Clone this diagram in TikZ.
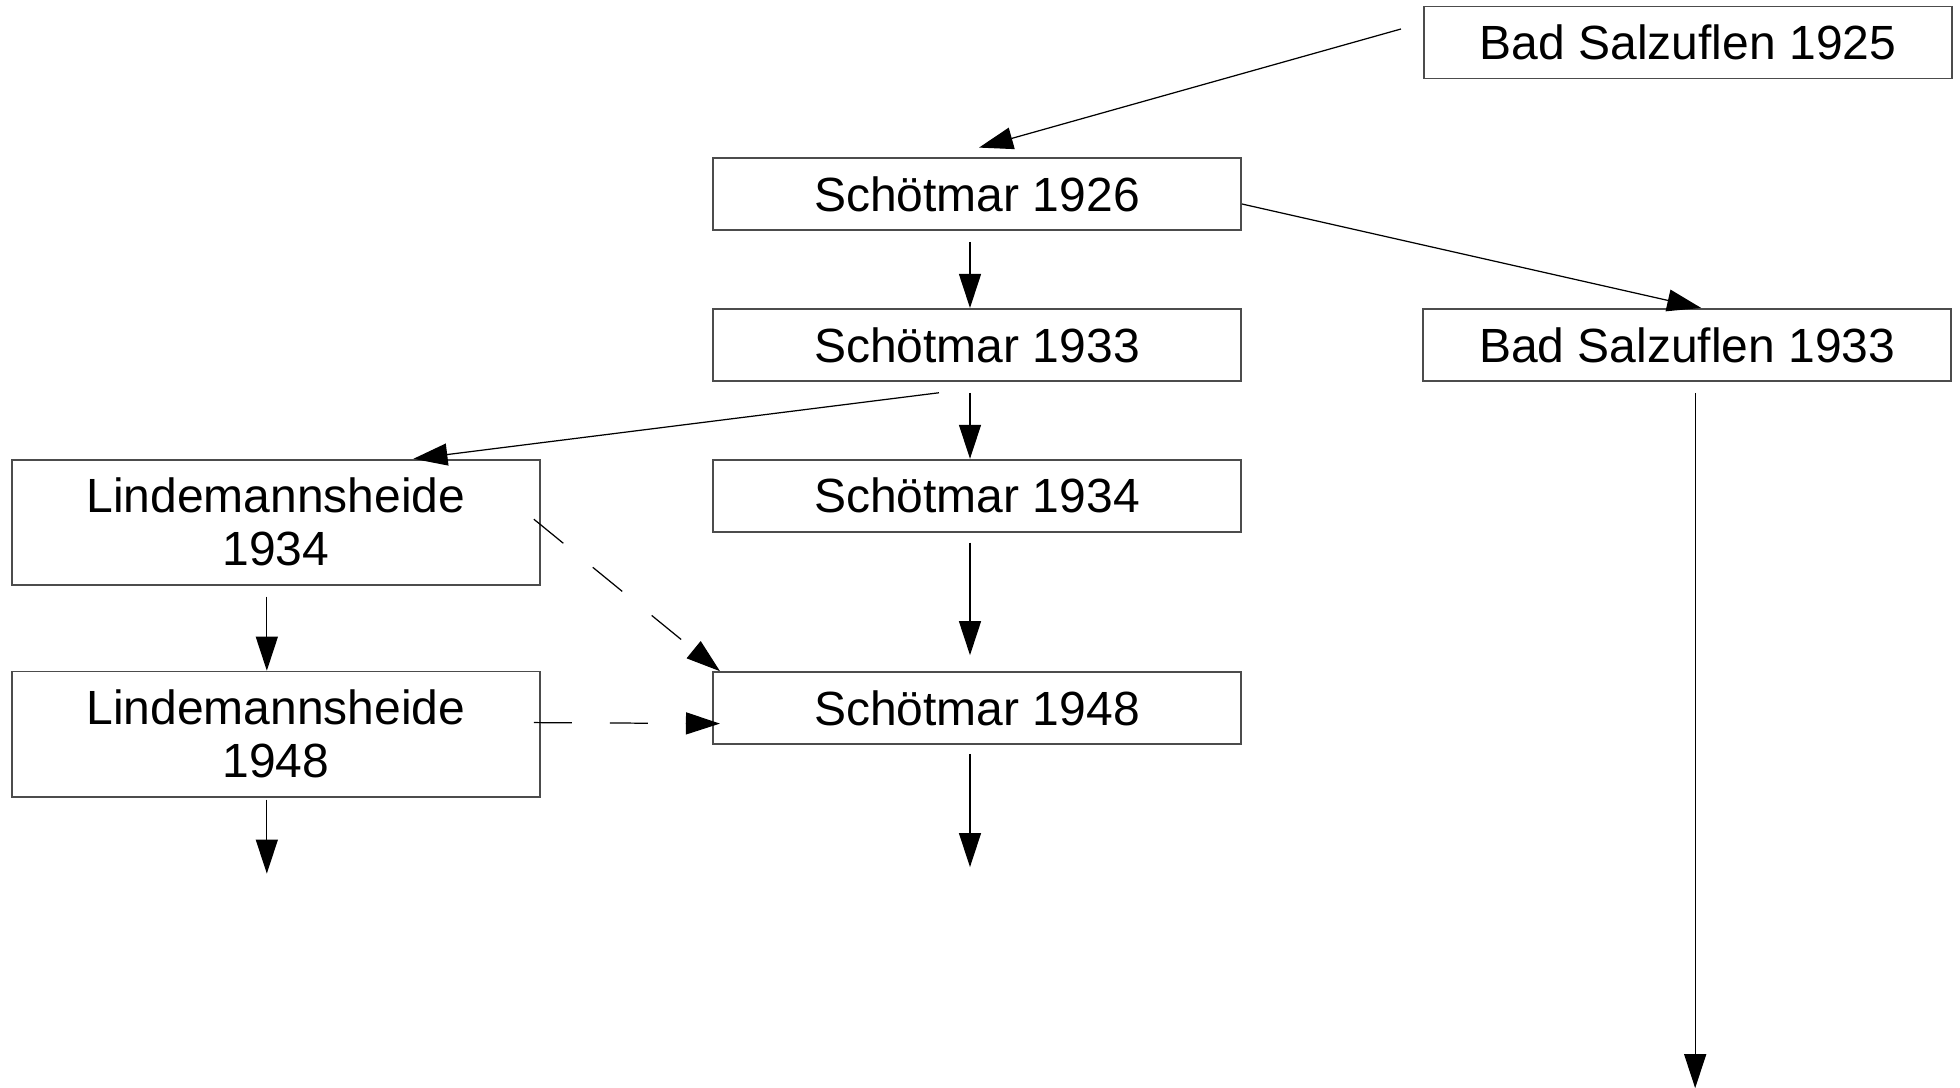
\documentclass[tikz,border=0pt]{standalone}
\usepackage{fontspec}
\setsansfont{Liberation Sans}
\usepackage{tikz}
\usetikzlibrary{arrows.meta}
\usetikzlibrary{positioning}

\begin{document}
\begin{tikzpicture}[x=0.01cm,y=-0.01cm,->,>={Triangle[length=0.34cm,width=0.22cm]},line width=0.35pt,
  every node/.style={font=\sffamily\fontsize{13.65}{15.1}\selectfont},
  place/.style={draw=black!70,line width=0.5pt,rectangle,minimum width=5.28cm,minimum height=0.72cm,inner sep=0pt,align=center},
  twoline/.style={place,minimum height=1.25cm},
  link/.style={dash pattern=on 0.38cm off 0.38cm}]
\useasboundingbox (0,0) rectangle (1960,1087);
\node[place] (bs1925) at (1688,42.5) {Bad Salzuflen 1925};
\node[place] (s1926) at (977,194) {Schötmar 1926};
\node[place] (s1933) [below=0.77cm of s1926] {Schötmar 1933};
\node[place] (bs1933) [right=1.8cm of s1933] {Bad Salzuflen 1933};
\node[place] (s1934) [below=0.77cm of s1933] {Schötmar 1934};
\node[place] (s1948) [below=1.385cm of s1934] {Schötmar 1948};
\node[twoline] (l1934) [below left=0cm and 1.71cm of s1934.north west] {Lindemannsheide\\1934};
\node[twoline] (l1948) [below=0.85cm of l1934] {Lindemannsheide\\1948};
\coordinate (bsend) at ([xshift=0.08cm,yshift=-7.06cm]bs1933.south);
\coordinate (lend) at ([xshift=-0.09cm,yshift=-0.76cm]l1948.south);
\coordinate (send) at ([xshift=-0.07cm,yshift=-1.22cm]s1948.south);
\path ([xshift=-0.22cm,yshift=0.135cm]bs1925.west) edge ([xshift=0.02cm,yshift=0.095cm]s1926.north) ;
\path ([yshift=-0.1cm]s1926.east) edge ([xshift=0.14cm]bs1933.north) ;
\path ([xshift=-0.07cm,yshift=-0.11cm]s1926.south) edge ([xshift=-0.07cm]s1933.north) ;
\path ([xshift=-0.38cm,yshift=-0.11cm]s1933.south) edge ([xshift=1.375cm]l1934.north) ;
\path ([xshift=-0.07cm,yshift=-0.11cm]s1933.south) edge ([xshift=-0.07cm]s1934.north) ;
\path ([xshift=0.08cm,yshift=-0.11cm]bs1933.south) edge (bsend) ;
\path ([xshift=-0.07cm,yshift=0.03cm]l1934.east) edge [link] ([xshift=0.08cm]s1948.north west) ;
\path ([xshift=-0.09cm,yshift=-0.11cm]l1934.south) edge ([xshift=-0.09cm]l1948.north) ;
\path ([xshift=-0.07cm,yshift=-0.1cm]s1934.south) edge ([xshift=-0.07cm,yshift=0.16cm]s1948.north) ;
\path ([xshift=-0.07cm,yshift=0.115cm]l1948.east) edge [link] ([xshift=0.08cm,yshift=-0.155cm]s1948.west) ;
\path ([xshift=-0.09cm,yshift=-0.02cm]l1948.south) edge (lend) ;
\path ([xshift=-0.07cm,yshift=-0.09cm]s1948.south) edge (send) ;
\end{tikzpicture}
\end{document}
